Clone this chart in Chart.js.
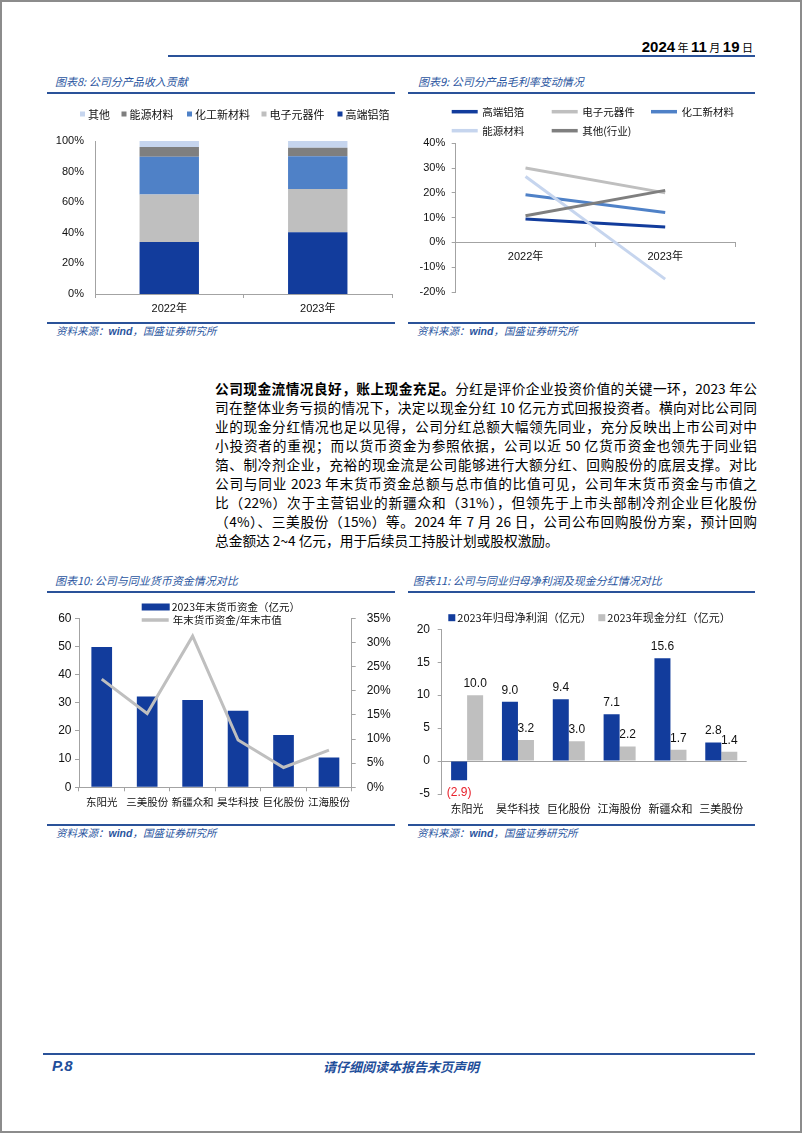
<!DOCTYPE html>
<html lang="zh-CN">
<head>
<meta charset="utf-8">
<title>P.8</title>
<script src="https://cdn.jsdelivr.net/npm/chart.js"></script>
<style>
  html, body { margin:0; padding:0; background:#fff; }
  body { position:relative; width:802px; height:1133px; overflow:hidden; font-family:"Noto Sans CJK SC","Liberation Sans",sans-serif; color:#000; }
  .frame { position:absolute; left:0; top:0; width:798px; height:1129px; border:2px solid #8c8c8c; }
  .rule { position:absolute; height:2px; background:#2a5299; }
  .title { position:absolute; font-size:11px; font-style:italic; color:#2a55a0; white-space:nowrap; line-height:14px; }
  .src { position:absolute; font-size:10.5px; font-style:italic; color:#2a55a0; white-space:nowrap; line-height:14px; }
  .src b { font-family:"Liberation Sans",sans-serif; font-weight:bold; }
  canvas { position:absolute; }
  .date { position:absolute; right:49px; top:38px; font-size:11px; white-space:nowrap; line-height:18px; }
  .date b { font-family:"Liberation Sans Narrow","Liberation Sans",sans-serif; font-size:15px; font-weight:bold; }
  .para { position:absolute; left:215px; top:379px; width:542px; font-size:13.7px; }
  .para div { height:19px; line-height:19px; white-space:nowrap; text-align:justify; text-align-last:justify; }
  .para div.last { text-align-last:left; }
  .foot-p { position:absolute; left:52px; top:1057px; font-family:"Liberation Sans",sans-serif; font-weight:bold; font-style:italic; font-size:15px; color:#1f4e9a; line-height:18px; }
  .foot-c { position:absolute; left:0; width:802px; top:1058px; text-align:center; font-style:italic; font-weight:bold; font-size:13px; color:#1f4e9a; line-height:18px; letter-spacing:0px; }
</style>
</head>
<body>
<div class="frame"></div>

<div class="date"><b>2024</b> 年 <b>11</b> 月 <b>19</b> 日</div>
<div class="rule" style="left:168px; top:55px; width:587px;"></div>

<div class="title" style="left:55px; top:74px;">图表8: 公司分产品收入贡献</div>
<div class="rule" style="left:47px; top:92px; width:348px;"></div>
<div class="title" style="left:418px; top:74px;">图表9: 公司分产品毛利率变动情况</div>
<div class="rule" style="left:408px; top:92px; width:347px;"></div>

<canvas id="c8" width="350" height="222" style="left:47px; top:98px;"></canvas>
<canvas id="c9" width="370" height="222" style="left:408px; top:98px;"></canvas>

<div class="rule" style="left:47px; top:322px; width:348px;"></div>
<div class="src" style="left:56px; top:324px;">资料来源：<b>wind</b>，国盛证券研究所</div>
<div class="rule" style="left:408px; top:322px; width:347px;"></div>
<div class="src" style="left:417px; top:324px;">资料来源：<b>wind</b>，国盛证券研究所</div>

<div class="para">
  <div><b>公司现金流情况良好，账上现金充足。</b>分红是评价企业投资价值的关键一环，2023 年公</div>
  <div>司在整体业务亏损的情况下，决定以现金分红 10 亿元方式回报投资者。横向对比公司同</div>
  <div>业的现金分红情况也足以见得，公司分红总额大幅领先同业，充分反映出上市公司对中</div>
  <div>小投资者的重视；而以货币资金为参照依据，公司以近 50 亿货币资金也领先于同业铝</div>
  <div>箔、制冷剂企业，充裕的现金流是公司能够进行大额分红、回购股份的底层支撑。对比</div>
  <div>公司与同业 2023 年末货币资金总额与总市值的比值可见，公司年末货币资金与市值之</div>
  <div>比（22%）次于主营铝业的新疆众和（31%），但领先于上市头部制冷剂企业巨化股份</div>
  <div>（4%）、三美股份（15%）等。2024 年 7 月 26 日，公司公布回购股份方案，预计回购</div>
  <div class="last">总金额达 2~4 亿元，用于后续员工持股计划或股权激励。</div>
</div>

<div class="title" style="left:55px; top:573px;">图表10: 公司与同业货币资金情况对比</div>
<div class="rule" style="left:47px; top:591px; width:348px;"></div>
<div class="title" style="left:413px; top:573px;">图表11: 公司与同业归母净利润及现金分红情况对比</div>
<div class="rule" style="left:408px; top:591px; width:347px;"></div>

<canvas id="c10" width="350" height="224" style="left:47px; top:598px;"></canvas>
<canvas id="c11" width="347" height="224" style="left:408px; top:598px;"></canvas>

<div class="rule" style="left:47px; top:824px; width:348px;"></div>
<div class="src" style="left:56px; top:826px;">资料来源：<b>wind</b>，国盛证券研究所</div>
<div class="rule" style="left:408px; top:824px; width:347px;"></div>
<div class="src" style="left:417px; top:826px;">资料来源：<b>wind</b>，国盛证券研究所</div>

<div class="rule" style="left:43px; top:1053px; width:712px;"></div>
<div class="foot-p">P.8</div>
<div class="foot-c">请仔细阅读本报告末页声明</div>

<script>
// ---------------- data ----------------
// 图表8
const c8Years = ['2022年', '2023年'];
const c8Aluminum   = [34.0, 40.3];   // 高端铝箔
const c8Electronic = [31.0, 28.3];   // 电子元器件
const c8Chemical   = [24.7, 21.4];   // 化工新材料
const c8Energy     = [6.3, 5.6];     // 能源材料
const c8Other      = [4.0, 4.4];     // 其他
const c8YTicks = [0, 20, 40, 60, 80, 100];

// 图表9
const c9Years = ['2022年', '2023年'];
const c9Aluminum   = [9.5, 6.2];
const c9Electronic = [30.0, 20.0];
const c9Chemical   = [19.2, 12.1];
const c9Energy     = [26.6, -14.8];
const c9Other      = [10.8, 21.0];
const c9YTicks = [-20, -10, 0, 10, 20, 30, 40];

// 图表10
const c10Companies = ['东阳光', '三美股份', '新疆众和', '昊华科技', '巨化股份', '江海股份'];
const c10Cash      = [49.8, 32.2, 31.0, 27.2, 18.6, 10.6];   // 亿元
const c10CashRatio = [22.4, 15.3, 31.3, 9.8, 4.1, 7.7];      // %
const c10LeftTicks = [0, 10, 20, 30, 40, 50, 60];
const c10RightTicks = [0, 5, 10, 15, 20, 25, 30, 35];

// 图表11
const c11Companies = ['东阳光', '昊华科技', '巨化股份', '江海股份', '新疆众和', '三美股份'];
const c11NetProfit = [-2.9, 9.0, 9.4, 7.1, 15.6, 2.8];
const c11Dividend  = [10.0, 3.2, 3.0, 2.2, 1.7, 1.4];
const c11YTicks = [-5, 0, 5, 10, 15, 20];

// ---------------- styles ----------------
const FONT = '"Liberation Sans", "Noto Sans CJK SC", sans-serif';
const CJK = '"Noto Sans CJK SC", "Liberation Sans", sans-serif';
const AX = '#a3a3a3';
const TXT = '#111';
const NAVY = '#123c9c', GRAY = '#bfbfbf', MID = '#4f81c7', DGRAY = '#7f7f7f', LBLUE = '#c6d5ee';

Chart.defaults.animation = false;
Chart.defaults.responsive = false;
Chart.defaults.devicePixelRatio = 1;
Chart.defaults.plugins.tooltip.enabled = false;
Chart.defaults.plugins.legend.display = false;

function manualLegend(id, items, fontSize) {
  return {
    id: id,
    afterDraw(chart) {
      const ctx = chart.ctx;
      ctx.save();
      ctx.font = fontSize + 'px ' + CJK;
      ctx.textBaseline = 'middle';
      ctx.textAlign = 'left';
      items.forEach(it => {
        const ds = chart.data.datasets[it.i];
        const isLine = (ds.type || chart.config.type) === 'line';
        ctx.fillStyle = isLine ? ds.borderColor : ds.backgroundColor;
        ctx.fillRect(it.x, it.y - it.h / 2, it.w, it.h);
        ctx.fillStyle = TXT;
        ctx.fillText(ds.label, it.x + it.w + it.gap, it.y + 0.5);
      });
      ctx.restore();
    }
  };
}
function tickSet(arr) {
  return function(scale) { scale.ticks = arr.map(v => ({ value: v })); };
}

// ---------------- 图表8 ----------------
new Chart(document.getElementById('c8'), {
  type: 'bar',
  data: {
    labels: c8Years,
    datasets: [
      { label: '高端铝箔', data: c8Aluminum, backgroundColor: NAVY },
      { label: '电子元器件', data: c8Electronic, backgroundColor: GRAY },
      { label: '化工新材料', data: c8Chemical, backgroundColor: MID },
      { label: '能源材料', data: c8Energy, backgroundColor: DGRAY },
      { label: '其他', data: c8Other, backgroundColor: LBLUE }
    ].map(d => Object.assign(d, { barPercentage: 0.4, categoryPercentage: 1, borderWidth: 0 }))
  },
  options: {
    layout: { padding: { top: 43, right: 5, left: 0, bottom: 0 } },
    scales: {
      x: {
        stacked: true,
        grid: { display: true, drawOnChartArea: false, drawTicks: true, tickLength: 4, color: AX, offset: true },
        border: { display: true, color: AX },
        ticks: { font: { size: 11, family: FONT }, color: TXT, padding: 4, maxRotation: 0, minRotation: 0 },
        afterFit: s => { s.height = 26; }
      },
      y: {
        stacked: true, min: 0, max: 100,
        afterBuildTicks: tickSet(c8YTicks),
        grid: { display: false, drawTicks: false },
        border: { display: true, color: AX },
        ticks: { font: { size: 11, family: FONT }, color: TXT, padding: 11, callback: v => v + '%' },
        afterFit: s => { s.width = 48; }
      }
    }
  },
  plugins: [manualLegend('lg8', [
    { i: 4, x: 33, y: 16, w: 5, h: 5, gap: 3 },
    { i: 3, x: 74.5, y: 16, w: 5, h: 5, gap: 3 },
    { i: 2, x: 140, y: 16, w: 5, h: 5, gap: 3 },
    { i: 1, x: 214.5, y: 16, w: 5, h: 5, gap: 3 },
    { i: 0, x: 290.5, y: 16, w: 5, h: 5, gap: 3 }
  ], 11)]
});

// ---------------- 图表9 ----------------
new Chart(document.getElementById('c9'), {
  type: 'line',
  data: {
    labels: c9Years,
    datasets: [
      { label: '高端铝箔', data: c9Aluminum, borderColor: NAVY, order: 5 },
      { label: '电子元器件', data: c9Electronic, borderColor: GRAY, order: 4 },
      { label: '化工新材料', data: c9Chemical, borderColor: MID, order: 3 },
      { label: '能源材料', data: c9Energy, borderColor: LBLUE, order: 2 },
      { label: '其他(行业)', data: c9Other, borderColor: DGRAY, order: 1 }
    ].map(d => Object.assign(d, { borderWidth: 3, pointRadius: 0, fill: false, tension: 0, borderCapStyle: 'butt' }))
  },
  options: {
    layout: { padding: { top: 45.3, right: 43, left: 0, bottom: 28 } },
    scales: {
      x: {
        position: { y: 0 },
        offset: true,
        grid: { display: true, drawOnChartArea: false, drawTicks: true, tickLength: 4, color: AX, offset: true },
        border: { display: true, color: AX },
        ticks: { font: { size: 11, family: FONT }, color: TXT, padding: 4, maxRotation: 0, minRotation: 0 }
      },
      y: {
        min: -20, max: 40,
        afterBuildTicks: tickSet(c9YTicks),
        grid: { display: true, drawOnChartArea: false, drawTicks: true, tickLength: 4, color: AX },
        border: { display: true, color: AX },
        ticks: { font: { size: 11, family: FONT }, color: TXT, padding: 6.5, callback: v => v + '%' },
        afterFit: s => { s.width = 47.7; }
      }
    }
  },
  plugins: [manualLegend('lg9', [
    { i: 0, x: 43.7, y: 13.7, w: 26, h: 3.5, gap: 4.5 },
    { i: 1, x: 143.7, y: 13.7, w: 26, h: 3.5, gap: 4.5 },
    { i: 2, x: 243, y: 13.7, w: 26, h: 3.5, gap: 4.5 },
    { i: 3, x: 43.7, y: 32.7, w: 26, h: 3.5, gap: 4.5 },
    { i: 4, x: 143.7, y: 32.7, w: 26, h: 3.5, gap: 4.5 }
  ], 10.5)]
});

// ---------------- 图表10 ----------------
new Chart(document.getElementById('c10'), {
  type: 'bar',
  data: {
    labels: c10Companies,
    datasets: [
      { type: 'bar', label: '2023年末货币资金（亿元）', data: c10Cash, backgroundColor: NAVY, yAxisID: 'y',
        barPercentage: 0.455, categoryPercentage: 1, order: 2 },
      { type: 'line', label: '年末货币资金/年末市值', data: c10CashRatio, borderColor: GRAY, yAxisID: 'y1',
        borderWidth: 3, pointRadius: 0, fill: false, tension: 0, order: 1 }
    ]
  },
  options: {
    layout: { padding: { top: 20.3, right: 0, left: 0, bottom: 0 } },
    scales: {
      x: {
        grid: { display: true, drawOnChartArea: false, drawTicks: true, tickLength: 4, color: AX, offset: true },
        border: { display: true, color: AX },
        ticks: { font: { size: 10.5, family: CJK }, color: TXT, padding: 4, maxRotation: 0, minRotation: 0, autoSkip: false },
        afterFit: s => { s.height = 34.7; }
      },
      y: {
        position: 'left', min: 0, max: 60,
        afterBuildTicks: tickSet(c10LeftTicks),
        grid: { display: true, drawOnChartArea: false, drawTicks: true, tickLength: 4, color: AX },
        border: { display: true, color: AX },
        ticks: { font: { size: 12, family: FONT }, color: TXT, padding: 3.5 },
        afterFit: s => { s.width = 32; }
      },
      y1: {
        position: 'right', min: 0, max: 35,
        afterBuildTicks: tickSet(c10RightTicks),
        grid: { display: true, drawOnChartArea: false, drawTicks: true, tickLength: 4, color: AX },
        border: { display: true, color: AX },
        ticks: { font: { size: 12, family: FONT }, color: TXT, padding: 11, callback: v => v + '%' },
        afterFit: s => { s.width = 45.3; }
      }
    }
  },
  plugins: [manualLegend('lg10', [
    { i: 0, x: 94.7, y: 9, w: 28, h: 7, gap: 2 },
    { i: 1, x: 94.7, y: 22, w: 27, h: 3.5, gap: 4 }
  ], 10.5)]
});

// ---------------- 图表11 ----------------
const c11Labels = {
  id: 'c11Labels',
  beforeDatasetsDraw(chart) {
    const ctx = chart.ctx;
    ctx.save();
    ctx.font = '12px ' + FONT;
    ctx.textAlign = 'center';
    ctx.textBaseline = 'middle';
    chart.data.datasets.forEach((ds, di) => {
      const meta = chart.getDatasetMeta(di);
      meta.data.forEach((el, i) => {
        const v = ds.data[i];
        if (v >= 0) {
          ctx.fillStyle = TXT;
          ctx.fillText(v.toFixed(1), el.x, el.y - 11.5);
        } else {
          ctx.fillStyle = '#e8212b';
          ctx.fillText('(' + Math.abs(v).toFixed(1) + ')', el.x, el.y + 12.5);
        }
      });
    });
    ctx.restore();
  }
};

new Chart(document.getElementById('c11'), {
  type: 'bar',
  data: {
    labels: c11Companies,
    datasets: [
      { label: '2023年归母净利润（亿元）', data: c11NetProfit, backgroundColor: NAVY },
      { label: '2023年现金分红（亿元）', data: c11Dividend, backgroundColor: GRAY }
    ].map(d => Object.assign(d, { barPercentage: 1, categoryPercentage: 0.63, borderWidth: 0 }))
  },
  options: {
    layout: { padding: { top: 31.3, right: 8.3, left: 0, bottom: 0 } },
    scales: {
      x: {
        grid: { display: false, drawTicks: false },
        border: { display: false },
        ticks: { font: { size: 11, family: CJK }, color: TXT, padding: 8, maxRotation: 0, minRotation: 0, autoSkip: false },
        afterFit: s => { s.height = 28; }
      },
      y: {
        min: -5, max: 20,
        afterBuildTicks: tickSet(c11YTicks),
        grid: {
          display: true, drawOnChartArea: true, drawTicks: true, tickLength: 4,
          color: c => (c.tick && c.tick.value === 0) ? AX : 'rgba(0,0,0,0)',
          tickColor: AX
        },
        border: { display: true, color: AX },
        ticks: { font: { size: 12, family: FONT }, color: TXT, padding: 7.7 },
        afterFit: s => { s.width = 33.7; }
      }
    }
  },
  plugins: [c11Labels, manualLegend('lg11', [
    { i: 0, x: 40.3, y: 19.7, w: 7, h: 7, gap: 2 },
    { i: 1, x: 190.3, y: 19.7, w: 7, h: 7, gap: 2 }
  ], 11)]
});
</script>
</body>
</html>
